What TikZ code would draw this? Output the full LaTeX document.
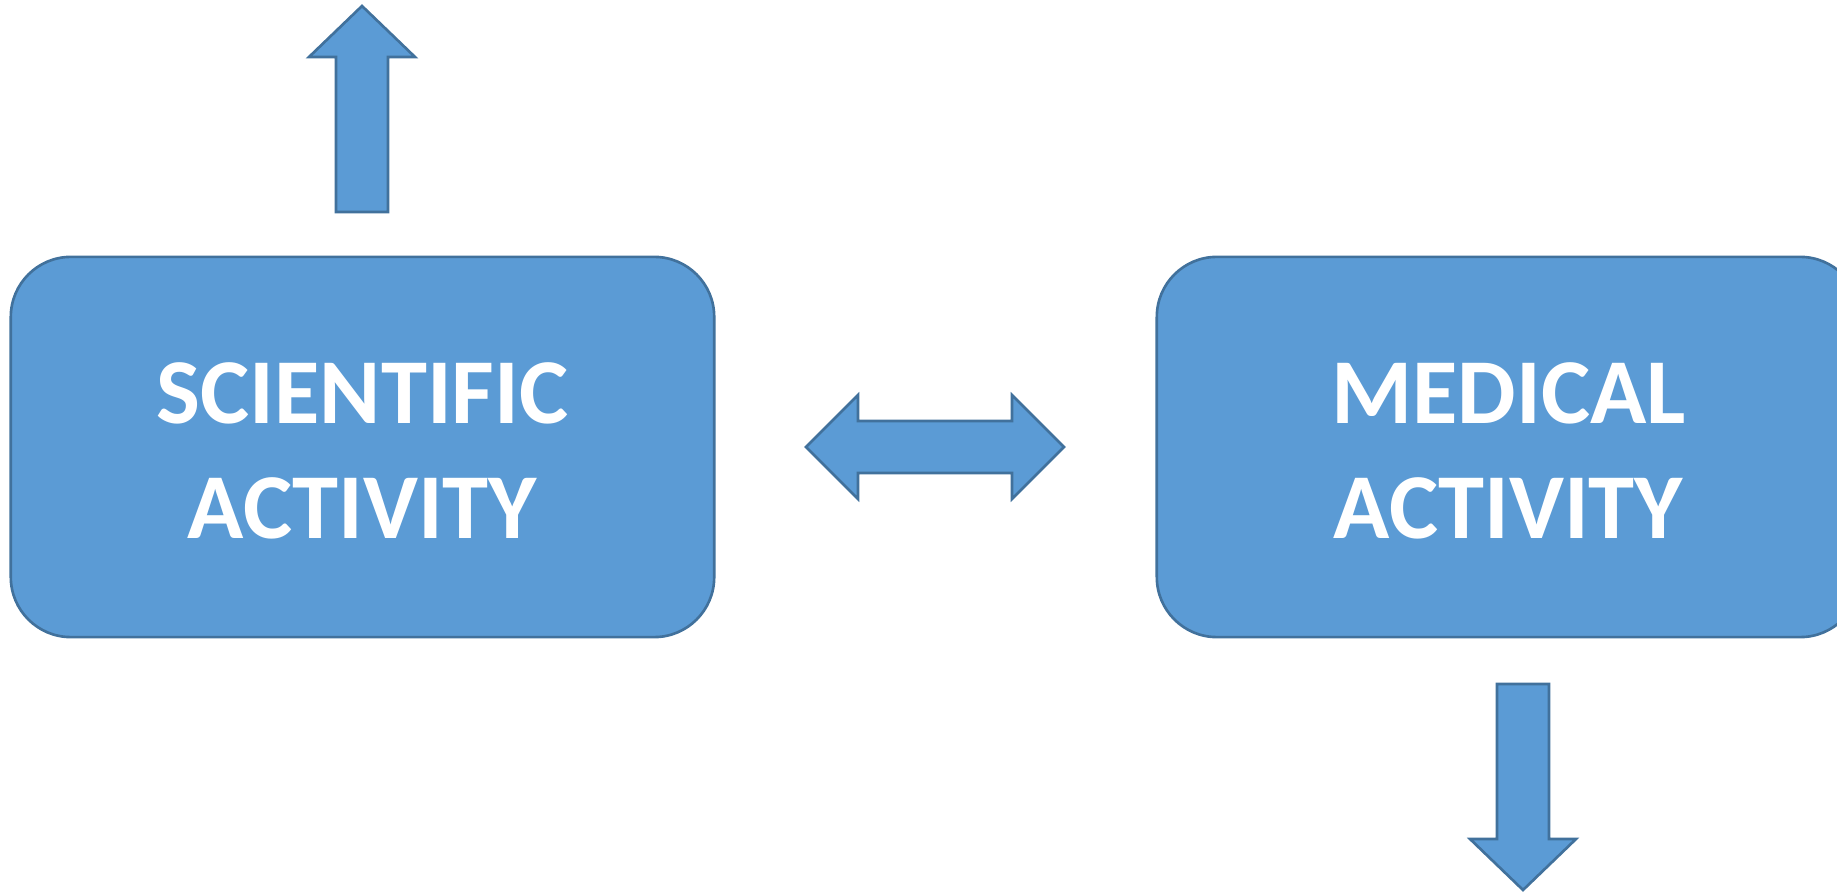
\documentclass[tikz,border=0pt]{standalone}
\usepackage{fontspec}
\setmainfont{Carlito}
\definecolor{boxfill}{HTML}{5B9BD5}
\definecolor{boxline}{HTML}{41719C}
\tikzset{
  activitybox/.style={draw=boxline, fill=boxfill, line width=0.75pt, rectangle,
    rounded corners=0.6cm, minimum width=7.03cm, minimum height=3.8cm, inner sep=0pt},
  activitytext/.style={text=white, align=center, inner sep=0pt,
    font=\fontsize{26.4}{32.7}\selectfont\bfseries},
  blockarrow/.style={draw=boxline, fill=boxfill, line width=0.75pt, line join=miter}
}
\begin{document}
\begin{tikzpicture}[x=0.01cm, y=-0.01cm]
  \useasboundingbox (0,0) rectangle (1837,892);
  % boxes
  \node[activitybox] (sci) at (362.5,447) {};
  \node[activitytext] (scitext) at (362.5,451) {SCIENTIFIC\\ACTIVITY};
  \node[activitybox] (med) at (1508.5,447) {};
  \node[activitytext] (medtext) at (1508.5,451) {MEDICAL\\ACTIVITY};
  % up arrow
  \draw[blockarrow] (336,212) -- (336,57) -- (309,57) -- (362,6) -- (415,57)
    -- (388,57) -- (388,212) -- cycle;
  % double arrow
  \draw[blockarrow] (806,447) -- (858,395) -- (858,421) -- (1012,421) -- (1012,395)
    -- (1064,447) -- (1012,499) -- (1012,473) -- (858,473) -- (858,499) -- cycle;
  % down arrow
  \draw[blockarrow] (1497,684) -- (1549,684) -- (1549,839) -- (1576,839)
    -- (1523,890) -- (1470,839) -- (1497,839) -- cycle;
\end{tikzpicture}
\end{document}
